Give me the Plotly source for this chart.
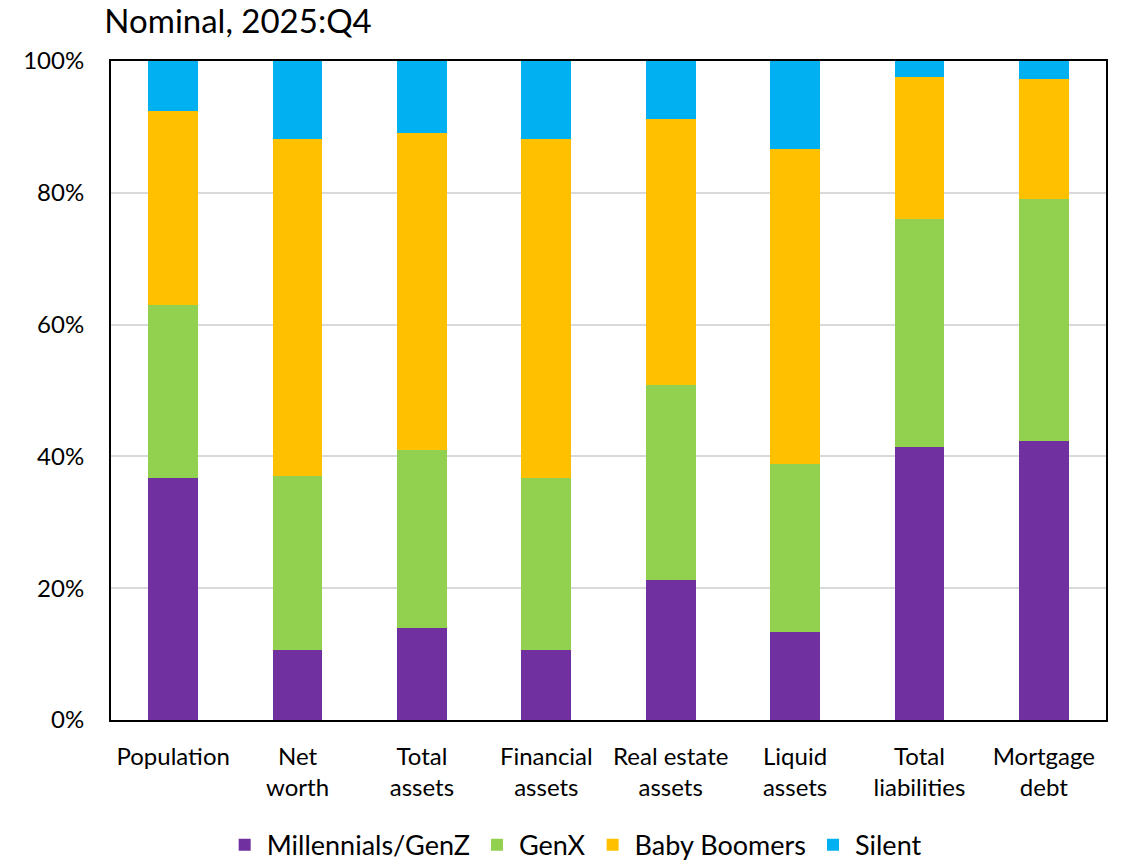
import plotly.graph_objects as go

categories = ["Population", "Net<br>worth", "Total<br>assets", "Financial<br>assets",
              "Real estate<br>assets", "Liquid<br>assets", "Total<br>liabilities", "Mortgage<br>debt"]

millennials = [36.7, 10.6, 13.9, 10.6, 21.2, 13.3, 41.5, 42.4]
genx = [26.3, 26.4, 27.0, 26.1, 29.7, 25.5, 34.6, 36.7]
boomers = [29.4, 51.2, 48.2, 51.5, 40.3, 47.9, 21.5, 18.2]
silent = [7.6, 11.8, 10.9, 11.8, 8.8, 13.3, 2.4, 2.7]

series = [
    ("Millennials/GenZ", millennials, "#7030a0"),
    ("GenX", genx, "#92d050"),
    ("Baby Boomers", boomers, "#ffc000"),
    ("Silent", silent, "#00b0f0"),
]

fig = go.Figure()
for name, vals, color in series:
    fig.add_trace(go.Bar(x=categories, y=vals, name=name, marker_color=color,
                         marker_line_width=0))

fig.update_layout(
    barmode="stack",
    bargap=0.6,
    width=1122, height=863,
    paper_bgcolor="white", plot_bgcolor="white",
    font=dict(family="Lato, Open Sans, sans-serif", size=24, color="black"),
    margin=dict(l=111, r=16, t=61, b=143, autoexpand=False),
    title=dict(text="Nominal, 2025:Q4", x=0.093, xanchor="left", y=0.975, yanchor="middle",
               font=dict(size=33, color="black")),
    showlegend=True,
    legend=dict(orientation="h", x=0.466, xanchor="center", y=-0.19, yanchor="middle",
                font=dict(size=27), traceorder="normal", itemwidth=34),
)
fig.update_yaxes(range=[0, 100], tickvals=[0, 20, 40, 60, 80, 100],
                 ticktext=["0%", "20%", "40%", "60%", "80%", "100%"],
                 showgrid=True, gridcolor="#d9d9d9", gridwidth=1.5,
                 showline=True, linecolor="black", linewidth=2, mirror=True,
                 ticks="", ticklabelstandoff=20, tickfont=dict(size=24), automargin=False)
fig.update_xaxes(showline=True, linecolor="black", linewidth=2, mirror=True,
                 ticks="", tickfont=dict(size=24), ticklabelstandoff=14, automargin=False)

# drop the default page margin so the figure sits at the window's corner
fig.write_html("out.html", config={"displayModeBar": False},
               post_script="document.body.style.margin='0';")
